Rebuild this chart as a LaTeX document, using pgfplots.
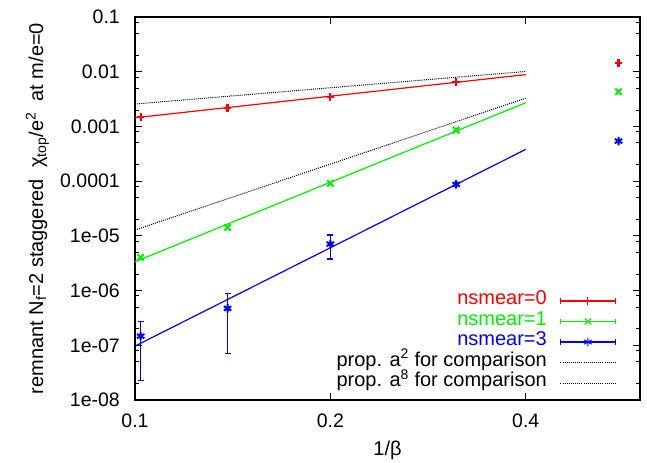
\documentclass[border=0pt]{standalone}
\usepackage{fontspec}
\setmainfont{Liberation Sans}
\usepackage{pgfplots}
\pgfplotsset{compat=1.18}
\definecolor{gpred}{RGB}{255,0,0}
\definecolor{gpgreen}{RGB}{0,240,0}
\definecolor{gpblue}{RGB}{0,0,255}
\begin{document}
\begin{tikzpicture}
\begin{axis}[
 scale only axis, width=505pt, height=383pt,
 xmode=log, ymode=log,
 xmin=0.1, xmax=0.6, ymin=1e-8, ymax=0.1,
 xtick={0.1,0.2,0.4}, xticklabels={0.1,0.2,0.4},
 ytick={1e-8,1e-7,1e-6,1e-5,1e-4,1e-3,1e-2,1e-1},
 yticklabels={1e-08,1e-07,1e-06,1e-05,0.0001,0.001,0.01,0.1},
 minor ytick={2e-8,5e-8,8e-8,2e-7,5e-7,8e-7,2e-6,5e-6,8e-6,2e-5,5e-5,8e-5,2e-4,5e-4,8e-4,2e-3,5e-3,8e-3,2e-2,5e-2,8e-2},
 xminorticks=false,
 tick pos=both, xticklabel pos=lower, yticklabel pos=left,
 tick align=inside,
 major tick length=7pt, minor tick length=4pt,
 every tick/.style={black, line width=0.9pt},
 axis line style={line width=1.2pt},
 tick label style={font=\fontsize{19.5}{22}\selectfont, inner sep=0pt},
 xticklabel style={anchor=base, yshift=-27pt},
 yticklabel style={anchor=east, xshift=-15pt},
 xlabel={1/β},
 xlabel style={at={(axis description cs:0.5,0)}, anchor=base, yshift=-55pt, font=\fontsize{20}{22}\selectfont},
 ylabel={remnant N\textsubscript{f}=2 staggered\ \ χ\textsubscript{top}/e\textsuperscript{2}\ \ at m/e=0},
 ylabel style={at={(axis description cs:-0.182,0.5)}, anchor=base, font=\fontsize{20}{22}\selectfont},
 legend cell align=right, legend plot pos=right,
 legend style={at={(axis description cs:0.9525,0.0176)}, anchor=south east, draw=none, fill=none,
   inner sep=0pt, outer sep=0pt, row sep=0pt, column sep=13pt, font=\fontsize{20}{22}\selectfont,
   nodes={inner sep=0pt, text height=14pt, text depth=6.5pt}},
 legend image code/.code={\draw (0pt,0pt) -- (55pt,0pt);},
 ebleg/.style={legend image code/.code={
   \draw[line width=1.2pt] (0pt,0pt) -- (55pt,0pt);
   \draw[line width=1.2pt] (0pt,-2.8pt) -- (0pt,2.8pt) (55pt,-2.8pt) -- (55pt,2.8pt);
   \draw[mark options={line width=1pt}] plot coordinates {(27.5pt,0pt)};}},
 dotline/.style={black, line width=1pt, dash pattern=on 1pt off 1.1pt},
 unbounded coords=jump,
 clip=false,
]
% fit lines
\addplot[gpred, line width=1.2pt, forget plot] coordinates {(0.1,1.44e-3) (0.4,8.85e-3)};
\addplot[gpgreen, line width=1.2pt, forget plot] coordinates {(0.1,3.36e-6) (0.4,2.71e-3)};
\addplot[gpblue, line width=1.2pt, forget plot] coordinates {(0.1,9.66e-8) (0.4,3.81e-4)};
% blue error bars (low / high ends)
\addplot[gpblue, line width=1.1pt, mark=-, mark size=3pt, mark options={solid, line width=1.2pt, gpblue}, forget plot] coordinates {
 (0.10204,2.3e-8) (0.10204,2.71e-7) (0.10204,nan)
 (0.13889,7.2e-8) (0.13889,8.72e-7) (0.13889,nan)
 (0.2,3.78e-6) (0.2,1.038e-5) (0.2,nan)
 (0.3125,8.23e-5) (0.3125,9.23e-5)};
% data
\addplot[gpred, only marks, mark=+, mark size=3.8pt, mark options={line width=2.3pt}, ebleg] coordinates {
 (0.10204,1.47e-3) (0.13889,2.2e-3) (0.2,3.49e-3) (0.3125,6.56e-3)};
\addlegendentry{\textcolor{gpred}{nsmear=0}}
\addplot[gpgreen, only marks, mark=x, mark size=4.5pt, mark options={line width=2pt}, ebleg] coordinates {
 (0.10204,4.04e-6) (0.13889,1.43e-5) (0.2,9.1e-5) (0.3125,8.6e-4)};
\addlegendentry{\textcolor{gpgreen}{nsmear=1}}
\addplot[gpblue, only marks, mark=asterisk, mark size=4.3pt, mark options={line width=2pt}, ebleg] coordinates {
 (0.10204,1.47e-7) (0.13889,4.72e-7) (0.2,7.08e-6) (0.3125,8.73e-5)};
\addlegendentry{\textcolor{gpblue}{nsmear=3}}
\addplot[dotline] coordinates {(0.1,2.57e-3) (0.4,1.01e-2)};
\addlegendentry{prop. a\textsuperscript{2} for comparison}
\addplot[dotline] coordinates {(0.1,1.28e-5) (0.4,3.28e-3)};
\addlegendentry{prop. a\textsuperscript{8} for comparison}
% right-side points
\addplot[gpred, only marks, mark=+, mark size=3.8pt, mark options={line width=2.3pt}, forget plot] coordinates {(0.556,1.46e-2)};
\addplot[gpgreen, only marks, mark=x, mark size=4.5pt, mark options={line width=2pt}, forget plot] coordinates {(0.556,4.3e-3)};
\addplot[gpblue, only marks, mark=asterisk, mark size=4.3pt, mark options={line width=2pt}, forget plot] coordinates {(0.556,5.4e-4)};
\end{axis}
\path (-135pt,-62pt) rectangle (512pt,400pt);
\end{tikzpicture}
\end{document}
